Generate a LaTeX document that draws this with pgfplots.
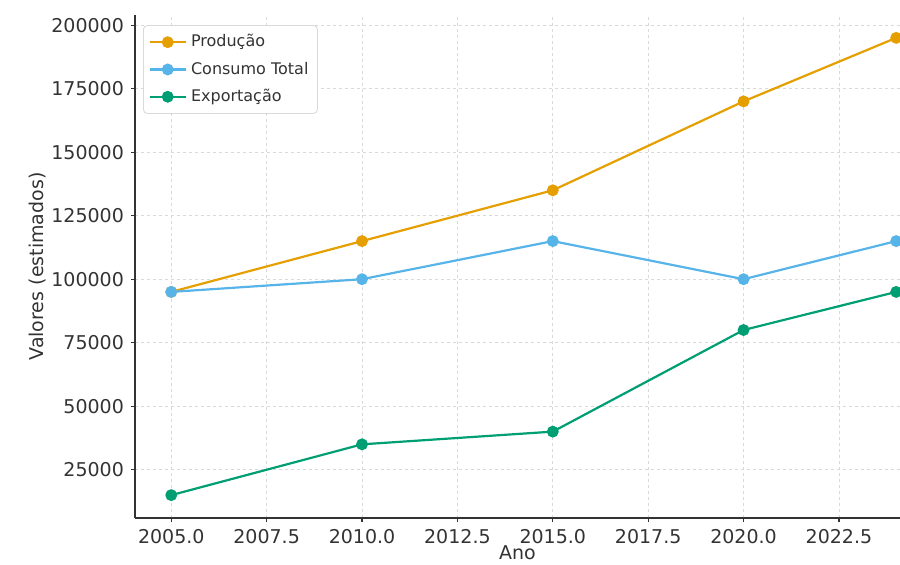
\documentclass[border=0pt]{standalone}
\usepackage{fontspec}
\setmainfont{DejaVu Sans}
\usepackage{pgfplots}
\pgfplotsset{compat=1.18}
\definecolor{cprod}{HTML}{E69F00}
\definecolor{ccons}{HTML}{56B4E9}
\definecolor{cexp}{HTML}{009E73}
\definecolor{txt}{HTML}{333333}
\begin{document}
\begin{tikzpicture}[x=1pt,y=1pt]
\clip (-67.5,-23) rectangle (382.5,259);
\begin{axis}[
  at={(0,0)}, anchor=south west,
  scale only axis, width=382.5pt, height=251.5pt,
  xmin=2004.05, xmax=2024.1, ymin=6000, ymax=204000,
  axis x line*=bottom, axis y line*=left,
  axis line style={txt, line width=0.7pt},
  xtick={2005,2007.5,2010,2012.5,2015,2017.5,2020,2022.5},
  ytick={25000,50000,75000,100000,125000,150000,175000,200000},
  scaled y ticks=false, scaled x ticks=false,
  xticklabel style={/pgf/number format/.cd, fixed, fixed zerofill, precision=1, 1000 sep={}, assume math mode=true},
  yticklabel style={/pgf/number format/.cd, fixed, 1000 sep={}, assume math mode=true},
  ticklabel style={font=\fontsize{9.5}{11}\selectfont, text=txt},
  tick align=outside, major tick length=2pt,
  tick style={txt, line width=0.6pt},
  grid=major, grid style={dash pattern=on 1.6pt off 1.4pt, gray!30, line width=0.4pt},
  xlabel={Ano}, ylabel={Valores (estimados)},
  label style={font=\fontsize{9.5}{11}\selectfont, text=txt},
  xlabel style={at={(axis description cs:0.5,-0.069)}, anchor=center},
  ylabel style={at={(axis description cs:-0.127,0.5)}, anchor=center},
  legend style={at={(0.0105,0.98)}, anchor=north west, draw=gray!30, rounded corners=2pt,
    fill=white, font=\fontsize{8}{9.5}\selectfont, text=txt, row sep=2pt, inner sep=2.5pt},
  legend cell align=left,
  legend image code/.code={
    \draw[mark repeat=2,mark phase=2] plot coordinates {(0cm,0cm) (0.32cm,0cm) (0.64cm,0cm)};},
  every axis plot/.append style={line width=1.1pt, mark=*, mark size=2.4pt},
]
\addplot[color=cprod, mark options={fill=cprod}] coordinates {(2005,95000) (2010,115000) (2015,135000) (2020,170000) (2024,195000)};
\addlegendentry{Produção}
\addplot[color=ccons, mark options={fill=ccons}] coordinates {(2005,95000) (2010,100000) (2015,115000) (2020,100000) (2024,115000)};
\addlegendentry{Consumo Total}
\addplot[color=cexp, mark options={fill=cexp}] coordinates {(2005,15000) (2010,35000) (2015,40000) (2020,80000) (2024,95000)};
\addlegendentry{Exportação}
\end{axis}
\end{tikzpicture}
\end{document}
